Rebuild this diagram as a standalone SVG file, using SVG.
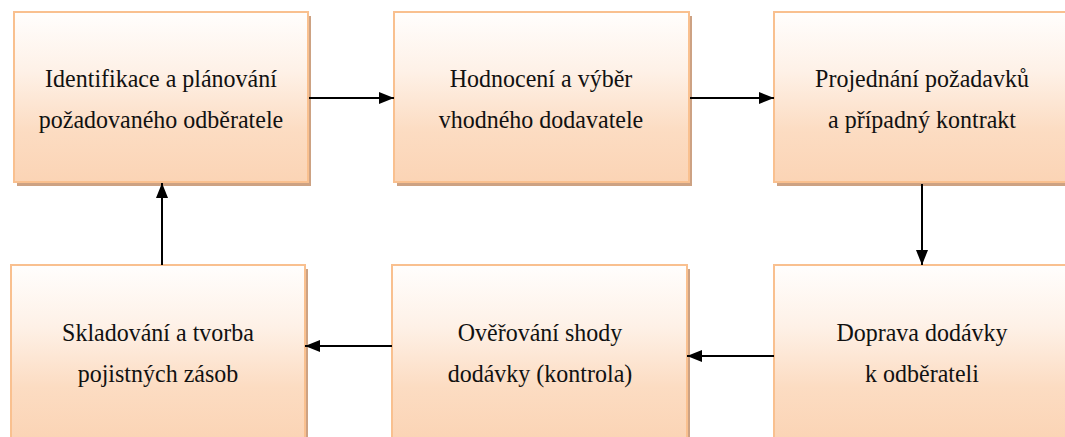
<svg xmlns="http://www.w3.org/2000/svg" width="1065" height="437" viewBox="0 0 1065 437">
  <defs>
    <linearGradient id="peach" x1="0" y1="0" x2="0" y2="1">
      <stop offset="0" stop-color="#fffefd"/>
      <stop offset="0.35" stop-color="#fef1e7"/>
      <stop offset="0.7" stop-color="#fcdcc2"/>
      <stop offset="1" stop-color="#fbd4b5"/>
    </linearGradient>
    <marker id="head" viewBox="0 0 15 12" refX="15" refY="6" markerWidth="15" markerHeight="12" markerUnits="userSpaceOnUse" orient="auto">
      <path d="M0,0 L15,6 L0,12 Z" fill="#000"/>
    </marker>
  </defs>
  <style>
    .shadow { fill: #cda283; }
    .box { fill: url(#peach); stroke: #f9c08f; stroke-width: 2; }
    .label { font-size: 24px; fill: #111; text-anchor: middle; }
    .link { fill: none; stroke: #000; stroke-width: 2; marker-end: url(#head); }
  </style>

  <rect width="1065" height="437" fill="#fff"/>

  <g font-family="Liberation Serif, Times New Roman, Times, serif">
  <g id="node-identifikace">
    <rect class="shadow" x="17" y="16" width="294" height="170"/>
    <rect class="box" x="14" y="12" width="294" height="170"/>
    <text class="label" transform="translate(161,87) scale(1,1.08)">Identifikace a plánování</text>
    <text class="label" transform="translate(161,128) scale(1,1.08)">požadovaného odběratele</text>
  </g>

  <g id="node-hodnoceni">
    <rect class="shadow" x="397" y="16" width="295" height="170"/>
    <rect class="box" x="394" y="12" width="295" height="170"/>
    <text class="label" transform="translate(541,87) scale(1,1.08)">Hodnocení a výběr</text>
    <text class="label" transform="translate(541,128) scale(1,1.08)">vhodného dodavatele</text>
  </g>

  <g id="node-projednani">
    <rect class="shadow" x="777" y="16" width="300" height="170"/>
    <rect class="box" x="774" y="12" width="300" height="170"/>
    <text class="label" transform="translate(922,87) scale(1,1.08)">Projednání požadavků</text>
    <text class="label" transform="translate(922,128) scale(1,1.08)">a případný kontrakt</text>
  </g>

  <g id="node-doprava">
    <rect class="shadow" x="777" y="269" width="300" height="175"/>
    <rect class="box" x="774" y="265" width="300" height="175"/>
    <text class="label" transform="translate(922,341) scale(1,1.08)">Doprava dodávky</text>
    <text class="label" transform="translate(922,382) scale(1,1.08)">k odběrateli</text>
  </g>

  <g id="node-overovani">
    <rect class="shadow" x="395" y="269" width="295" height="175"/>
    <rect class="box" x="392" y="265" width="295" height="175"/>
    <text class="label" transform="translate(540,341) scale(1,1.08)">Ověřování shody</text>
    <text class="label" transform="translate(540,382) scale(1,1.08)">dodávky (kontrola)</text>
  </g>

  <g id="node-skladovani">
    <rect class="shadow" x="14" y="269" width="294" height="175"/>
    <rect class="box" x="11" y="265" width="294" height="175"/>
    <text class="label" transform="translate(158,341) scale(1,1.08)">Skladování a tvorba</text>
    <text class="label" transform="translate(158,382) scale(1,1.08)">pojistných zásob</text>
  </g>
  </g>

  <g id="connectors">
    <path class="link" d="M309,98 L394,98"/>
    <path class="link" d="M690,98 L774,98"/>
    <path class="link" d="M922,184 L922,265"/>
    <path class="link" d="M774,356 L687,356"/>
    <path class="link" d="M392,346 L305,346"/>
    <path class="link" d="M162,265 L162,183"/>
  </g>
</svg>
